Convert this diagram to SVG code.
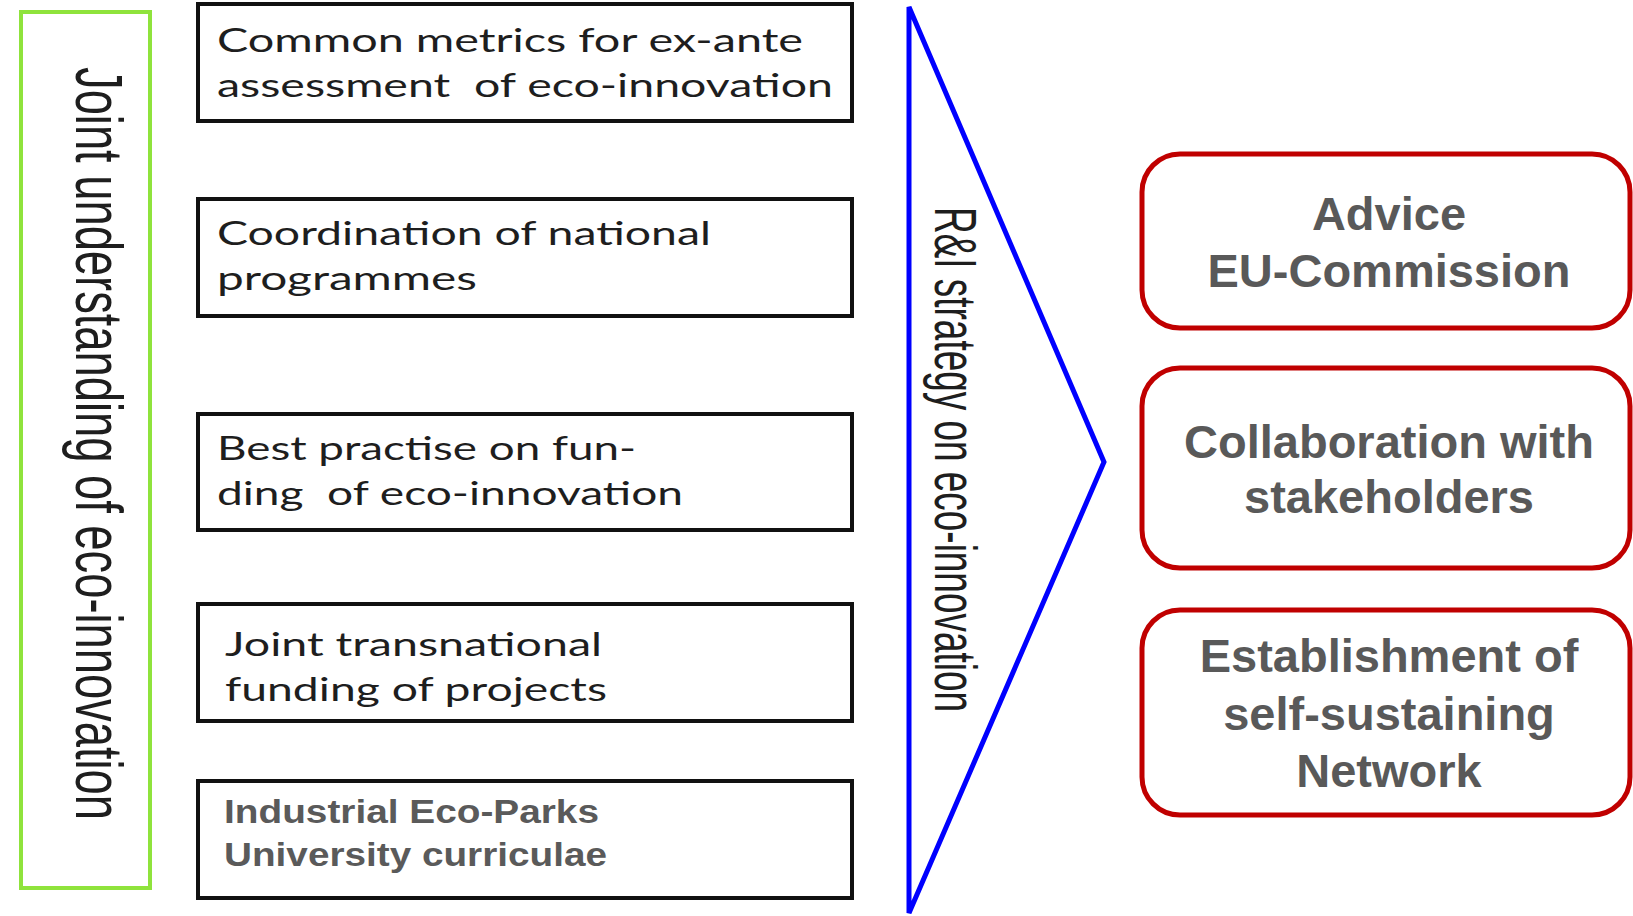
<svg xmlns="http://www.w3.org/2000/svg" width="1633" height="916" viewBox="0 0 1633 916">
<style>
.bg{fill:#ffffff}
.box{fill:#ffffff;stroke:#111111;stroke-width:4}
.green{fill:#ffffff;stroke:#8fe33c;stroke-width:4}
.red{fill:#ffffff;stroke:#c00000;stroke-width:5}
.tri{fill:#ffffff;stroke:#0000ff;stroke-width:5;stroke-linejoin:miter}
.t{font-family:Lato,"Open Sans","Liberation Sans",sans-serif;font-size:33px;fill:#1e1e1e}
.tb{font-family:"Liberation Sans",Arial,sans-serif;font-weight:bold;font-size:33px;fill:#5a5a5a}
.v{font-family:"Liberation Sans",Arial,sans-serif;fill:#1e1e1e}
.r{font-family:"Liberation Sans",Arial,sans-serif;font-weight:bold;font-size:47px;fill:#595959;text-anchor:middle}
</style>
<rect class="bg" x="0" y="0" width="1633" height="916"/>

<g id="joint-understanding">
  <rect class="green" x="21" y="12" width="129" height="876"/>
  <text class="v" font-size="66" transform="translate(76,67) rotate(90)" textLength="753" lengthAdjust="spacingAndGlyphs">Joint understanding of eco-innovation</text>
</g>

<g id="common-metrics">
  <rect class="box" x="198" y="4" width="654" height="117"/>
  <text class="t" x="217" y="52" textLength="586" lengthAdjust="spacingAndGlyphs">Common metrics for ex-ante</text>
  <text class="t" x="217" y="97" textLength="616" lengthAdjust="spacingAndGlyphs" xml:space="preserve">assessment  of eco-innovation</text>
</g>

<g id="coordination">
  <rect class="box" x="198" y="199" width="654" height="117"/>
  <text class="t" x="217" y="245" textLength="494" lengthAdjust="spacingAndGlyphs">Coordination of national</text>
  <text class="t" x="217" y="290" textLength="260" lengthAdjust="spacingAndGlyphs">programmes</text>
</g>

<g id="best-practise">
  <rect class="box" x="198" y="414" width="654" height="116"/>
  <text class="t" x="217" y="460" textLength="419" lengthAdjust="spacingAndGlyphs">Best practise on fun-</text>
  <text class="t" x="217" y="505" textLength="466" lengthAdjust="spacingAndGlyphs" xml:space="preserve">ding  of eco-innovation</text>
</g>

<g id="joint-funding">
  <rect class="box" x="198" y="604" width="654" height="117"/>
  <text class="t" x="225" y="656" textLength="377" lengthAdjust="spacingAndGlyphs">Joint transnational</text>
  <text class="t" x="225" y="701" textLength="382" lengthAdjust="spacingAndGlyphs">funding of projects</text>
</g>

<g id="eco-parks">
  <rect class="box" x="198" y="781" width="654" height="117"/>
  <text class="tb" x="224" y="823" textLength="375" lengthAdjust="spacingAndGlyphs">Industrial Eco-Parks</text>
  <text class="tb" x="224" y="866" textLength="383" lengthAdjust="spacingAndGlyphs">University curriculae</text>
</g>

<g id="connectors">
  <g id="strategy">
    <polygon class="tri" points="909,7 909,913 1104,462"/>
    <text class="v" font-size="60" transform="translate(935,207) rotate(90)" textLength="505" lengthAdjust="spacingAndGlyphs">R&amp;I strategy on eco-innovation</text>
  </g>
</g>

<g id="advice">
  <rect class="red" x="1142" y="154" width="488" height="174" rx="38" ry="38"/>
  <text class="r" x="1389" y="230">Advice</text>
  <text class="r" x="1389" y="287">EU-Commission</text>
</g>

<g id="collaboration">
  <rect class="red" x="1142" y="368" width="488" height="200" rx="38" ry="38"/>
  <text class="r" x="1389" y="458">Collaboration with</text>
  <text class="r" x="1389" y="513">stakeholders</text>
</g>

<g id="network">
  <rect class="red" x="1142" y="610" width="488" height="205" rx="38" ry="38"/>
  <text class="r" x="1389" y="672">Establishment of</text>
  <text class="r" x="1389" y="730">self-sustaining</text>
  <text class="r" x="1389" y="787">Network</text>
</g>
</svg>
